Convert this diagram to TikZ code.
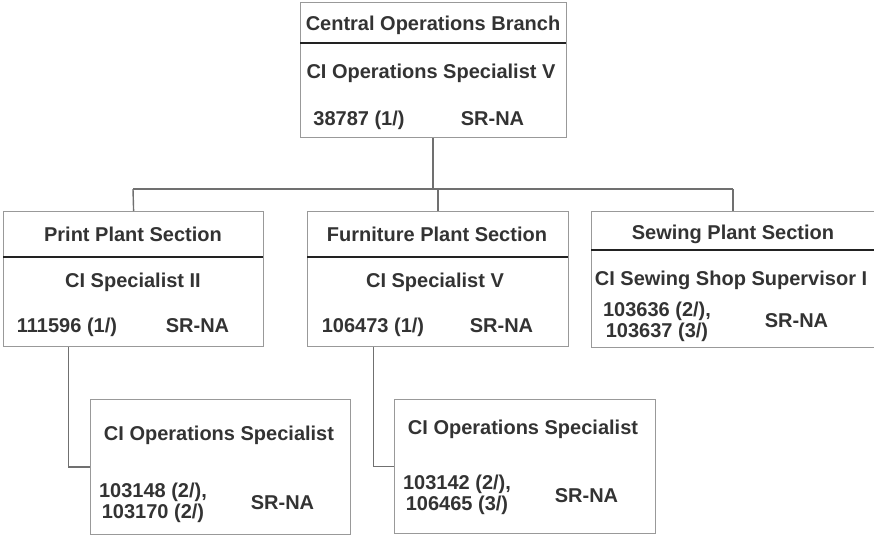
\documentclass[tikz,border=0pt]{standalone}
\usepackage{fontspec}
\setmainfont{Liberation Sans}
\definecolor{txt}{HTML}{333333}
\definecolor{brd}{HTML}{999999}
\definecolor{con}{HTML}{707070}
\definecolor{dvd}{HTML}{222222}
\begin{document}
\begin{tikzpicture}[x=1pt,y=-1pt,
  box/.style={draw=brd,line width=1.2pt,rectangle,inner sep=0pt,anchor=north west},
  lbl/.style={text=txt,font=\fontsize{20}{21}\selectfont\bfseries,inner sep=0pt,anchor=base},
  lbl2/.style={text=txt,font=\fontsize{20}{21}\selectfont\bfseries,inner sep=0pt,align=center,anchor=center},
  divider/.style={draw=dvd,line width=1.2pt},
  conn/.style={draw=con,line width=1.4pt}]
\useasboundingbox (0,0) rectangle (874,536);
\clip (0,0) rectangle (874,536);
% boxes
\node[box,minimum width=266pt,minimum height=135pt] (top) at (300,2) {};
\node[box,minimum width=260pt,minimum height=135pt] (print) at (3,211) {};
\node[box,minimum width=261pt,minimum height=135pt] (furn) at (307,211) {};
\node[box,minimum width=284pt,minimum height=136pt] (sew) at (591,211) {};
\node[box,minimum width=260pt,minimum height=135pt] (cA) at (90,399) {};
\node[box,minimum width=261pt,minimum height=134pt] (cB) at (394,399) {};
% dividers
\draw[divider] (300,43) -- (566,43);
\draw[divider] (3,257) -- (263,257);
\draw[divider] (307,257) -- (568,257);
\draw[divider] (591,250) -- (875,250);
% connectors
\coordinate (busM) at (433,189);
\coordinate (busL) at (133,189);
\coordinate (busR) at (733,189);
\draw[conn] (top.south -| busM) -- (busM);
\draw[conn] (busL) -- (busR);
\draw[conn] (busL) -- (print.north);
\draw[conn] (busM -| furn.north) -- (furn.north);
\draw[conn] (busR) -- (sew.north -| busR);
\draw[conn] ([xshift=-65pt]print.south) |- (cA.west);
\draw[conn] ([xshift=-64.5pt]furn.south) |- (cB.west);
% texts top
\node[lbl] (t1) at (433,30) {Central Operations Branch};
\node[lbl] (t2) at (431,78) {CI Operations Specialist V};
\node[lbl] (t3) at (359,125) {38787 (1/)};
\node[lbl] (t4) at (492.5,125) {SR-NA};
% print
\node[lbl] (p1) at (133,241) {Print Plant Section};
\node[lbl] (p2) at (133,287) {CI Specialist II};
\node[lbl] (p3) at (67,332) {111596 (1/)};
\node[lbl] (p4) at (197.5,332) {SR-NA};
% furniture
\node[lbl] (f1) at (437,241) {Furniture Plant Section};
\node[lbl] (f2) at (435,287) {CI Specialist V};
\node[lbl] (f3) at (373,332) {106473 (1/)};
\node[lbl] (f4) at (501.5,332) {SR-NA};
% sewing
\node[lbl] (s1) at (733,239) {Sewing Plant Section};
\node[lbl] (s2) at (731,285) {CI Sewing Shop Supervisor I};
\node[lbl2] (s3) at (657,322) {103636 (2/),\\103637 (3/)};
\node[lbl] (s4) at (796.5,327) {SR-NA};
% child A
\node[lbl] (a1) at (219,440) {CI Operations Specialist};
\node[lbl2] (a2) at (153,503) {103148 (2/),\\103170 (2/)};
\node[lbl] (a3) at (282.5,509) {SR-NA};
% child B
\node[lbl] (b1) at (523,434) {CI Operations Specialist};
\node[lbl2] (b2) at (457,495) {103142 (2/),\\106465 (3/)};
\node[lbl] (b3) at (586.5,502) {SR-NA};
\end{tikzpicture}
\end{document}
